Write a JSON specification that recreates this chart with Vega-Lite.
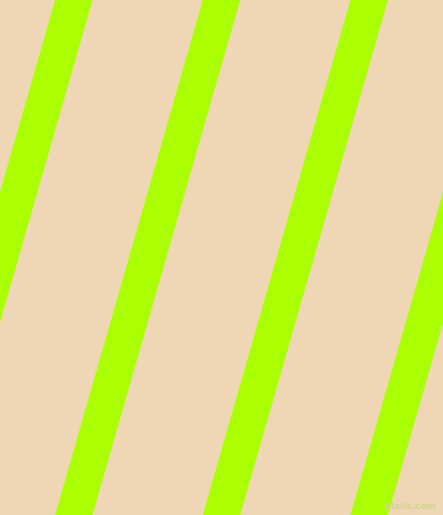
{
  "$schema": "https://vega.github.io/schema/vega-lite/v6.json",
  "width": 443,
  "height": 515,
  "autosize": {"type": "fit", "contains": "padding"},
  "padding": 0,
  "background": "#EFD7B5",
  "config": {"view": {"stroke": null}},
  "layer": [
    {
      "data": {
        "values": [
          {"stripe": 0, "px": 79.6, "py": -20},
          {"stripe": 0, "px": -79.6, "py": 535},
          {"stripe": 1, "px": 227.3, "py": -20},
          {"stripe": 1, "px": 68.1, "py": 535},
          {"stripe": 2, "px": 375.0, "py": -20},
          {"stripe": 2, "px": 215.8, "py": 535},
          {"stripe": 3, "px": 522.7, "py": -20},
          {"stripe": 3, "px": 363.5, "py": 535}
        ]
      },
      "mark": {"type": "line", "color": "#AAFF00", "strokeWidth": 36, "strokeCap": "butt", "clip": true},
      "encoding": {
        "x": {"field": "px", "type": "quantitative", "scale": {"domain": [0, 443], "nice": false, "zero": false}, "axis": null},
        "y": {"field": "py", "type": "quantitative", "scale": {"domain": [515, 0], "nice": false, "zero": false}, "axis": null},
        "detail": {"field": "stripe", "type": "nominal"},
        "order": {"field": "py", "type": "quantitative"}
      }
    },
    {
      "data": {"values": [{"label": "pixlis.com", "px": 436, "py": 506}]},
      "mark": {"type": "text", "align": "right", "baseline": "middle", "font": "DejaVu Sans", "fontSize": 9, "fontWeight": "bold", "color": "#D2D68C"},
      "encoding": {
        "x": {"field": "px", "type": "quantitative"},
        "y": {"field": "py", "type": "quantitative"},
        "text": {"field": "label"}
      }
    }
  ]
}
